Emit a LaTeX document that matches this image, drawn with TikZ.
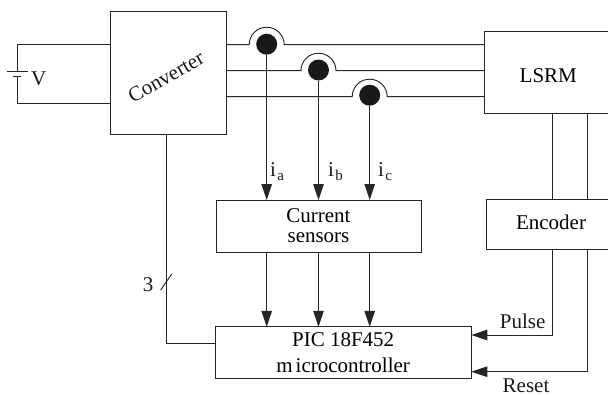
\documentclass[tikz,border=0pt]{standalone}
\usepackage{fontspec}
\setmainfont{Liberation Serif}
\usetikzlibrary{arrows.meta}
\newcommand{\lbl}{\fontsize{21}{24}\selectfont}
\newcommand{\isub}[1]{i\kern1.5pt\raisebox{-4pt}{\fontsize{15}{15}\selectfont #1}}
\tikzset{
  x=1pt,y=-1pt,
  wire/.style={line width=0.95pt,black!85},
  sig/.style={wire,-{Triangle[length=16pt,width=10.5pt]}},
  block/.style={draw=black!85,line width=0.95pt,anchor=north west,inner sep=0pt,outer sep=0pt,font=\lbl},
  dotnode/.style={circle,fill=black!90,minimum size=21pt,inner sep=0pt,outer sep=0pt},
  txt/.style={inner sep=0pt,outer sep=0pt,font=\lbl,text=black!90},
  hop/.style={wire}
}
\begin{document}
\begin{tikzpicture}
\useasboundingbox (0,0) rectangle (608,394);
\clip (0,0) rectangle (608,394);
% blocks
\node[block,minimum width=115.5pt,minimum height=122.5pt] (conv) at (110.5,11.5) {};
\node[txt,rotate=30] (convt) at (166,77) {Converter};
\node[block,minimum width=128pt,minimum height=82pt,text height=18.8pt,text depth=0pt] (lsrm) at (484.3,31.8) {LSRM};
\node[block,minimum width=130pt,minimum height=50pt,text height=14pt,text depth=5.4pt] (enc) at (486,199.7) {Encoder};
\node[block,minimum width=205pt,minimum height=52pt,align=center] (cs) at (216,200) {Current\\[-4pt]sensors};
\node[block,minimum width=256.3pt,minimum height=52pt,align=center] (pic) at (215,326.8) {PIC 18F452\\[2pt]m\kern3pt icrocontroller};
% sensor dots
\node[dotnode] (da) at (266.7,44.2) {};
\node[dotnode] (db) at (318.5,70) {};
\node[dotnode] (dc) at (369.7,95.2) {};
\coordinate (la) at (0,44.7);
\coordinate (lb) at (0,70.7);
\coordinate (lc) at (0,96.7);
% phase wires with hops
\foreach \d/\l in {da/la,db/lb,dc/lc}{
  \draw[hop] (conv.east |- \l) -- ([xshift=-17.5pt]\d.center |- \l)
     arc[start angle=180,end angle=0,radius=17.5pt]
     -- (lsrm.west |- \l);
}
% current taps
\coordinate (ca) at (da |- cs.north);
\coordinate (cb) at (db |- cs.north);
\coordinate (cc) at (dc |- cs.north);
\draw[sig] (da) -- (ca);
\draw[sig] (db) -- (cb);
\draw[sig] (dc) -- (cc);
\draw[sig] (ca |- cs.south) -- (ca |- pic.north);
\draw[sig] (cb |- cs.south) -- (cb |- pic.north);
\draw[sig] (cc |- cs.south) -- (cc |- pic.north);
\node[txt,anchor=base west] (ia) at (270,176.7) {\isub{a}};
\node[txt,anchor=base west] (ib) at (328,176.7) {\isub{b}};
\node[txt,anchor=base west] (ic) at (378,176.7) {\isub{c}};
% battery
\coordinate (bt) at (17,71);
\coordinate (bb) at (17,76.7);
\draw[wire] (conv.west |- la) -- (bt |- la) -- (bt);
\draw[wire] (conv.west |- 0,103.7) -- (bb |- 0,103.7) -- (bb);
\draw[wire] ([xshift=-10pt]bt) -- ([xshift=10.5pt]bt);
\draw[wire] ([xshift=-4pt]bb) -- ([xshift=4pt]bb);
\node[txt,anchor=base west] (v) at (31,85) {V};
% control line
\coordinate (ct) at (166.3,343.3);
\draw[wire] (ct |- conv.south) -- (ct) -- (ct -| pic.west);
\coordinate (s1) at (160.7,290);
\coordinate (s2) at (171.7,274);
\draw[wire] (s1) -- (s2);
\node[txt] (three) at (148,285) {3};
% LSRM to encoder
\coordinate (e1) at (552.3,0);
\coordinate (e2) at (587.7,0);
\draw[wire] (e1 |- lsrm.south) -- (e1 |- enc.north);
\draw[wire] (e2 |- lsrm.south) -- (e2 |- enc.north);
\draw[sig] (e1 |- enc.south) -- (e1 |- 0,335) -- (pic.east |- 0,335);
\draw[sig] (e2 |- enc.south) -- (e2 |- 0,371.7) -- (pic.east |- 0,371.7);
\node[txt] (pulse) at (522.7,321.5) {Pulse};
\node[txt] (reset) at (526,385.5) {Reset};
\end{tikzpicture}
\end{document}
